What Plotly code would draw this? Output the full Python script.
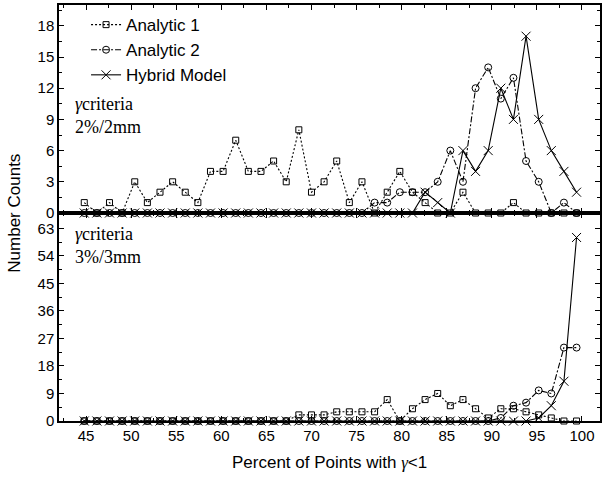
import plotly.graph_objects as go
from plotly.subplots import make_subplots

# bin centres (% of points with gamma < 1)
pct = [44.8, 46.2, 47.6, 49.0, 50.4, 51.8, 53.2, 54.6, 56.0, 57.4,
       58.8, 60.2, 61.6, 63.0, 64.4, 65.8, 67.2, 68.6, 70.0, 71.4,
       72.8, 74.2, 75.6, 77.0, 78.4, 79.8, 81.2, 82.6, 84.0, 85.4,
       86.8, 88.2, 89.6, 91.0, 92.4, 93.8, 95.2, 96.6, 98.0, 99.4]

# gamma criteria 2%/2mm
a1_2mm = [1, 0, 1, 0, 3, 1, 2, 3, 2, 1,
          4, 4, 7, 4, 4, 5, 3, 8, 2, 3,
          5, 1, 3, 0, 2, 4, 2, 1, 0, 0,
          2, 0, 0, 0, 1, 0, 0, 0, 0, 0]
a2_2mm = [0, 0, 0, 0, 0, 0, 0, 0, 0, 0,
          0, 0, 0, 0, 0, 0, 0, 0, 0, 0,
          0, 0, 0, 1, 1, 2, 2, 2, 3, 6,
          3, 12, 14, 11, 13, 5, 3, 0, 1, 0]
hy_2mm = [0, 0, 0, 0, 0, 0, 0, 0, 0, 0,
          0, 0, 0, 0, 0, 0, 0, 0, 0, 0,
          0, 0, 0, 0, 0, 0, 0, 2, 1, 0,
          6, 4, 6, 12, 9, 17, 9, 6, 4, 2]

# gamma criteria 3%/3mm
a1_3mm = [0, 0, 0, 0, 0, 0, 0, 0, 0, 0,
          0, 0, 0, 0, 0, 0, 0, 2, 2, 2,
          3, 3, 3, 3, 7, 0, 4, 7, 9, 5,
          7, 4, 1, 4, 4, 3, 2, 1, 0, 0]
a2_3mm = [0, 0, 0, 0, 0, 0, 0, 0, 0, 0,
          0, 0, 0, 0, 0, 0, 0, 0, 0, 0,
          0, 0, 0, 0, 0, 0, 0, 0, 0, 0,
          0, 0, 0, 1, 5, 6, 10, 9, 24, 24]
hy_3mm = [0, 0, 0, 0, 0, 0, 0, 0, 0, 0,
          0, 0, 0, 0, 0, 0, 0, 0, 0, 0,
          0, 0, 0, 0, 0, 0, 0, 0, 0, 0,
          0, 0, 0, 0, 0, 0, 1, 5, 13, 60]

names = ["Analytic 1", "Analytic 2", "Hybrid Model"]
styles = [("2px,2px", "square-open", 6),
          ("6px,2px,2px,2px", "circle-open", 7),
          ("solid", "x-thin-open", 9)]

fig = make_subplots(rows=2, cols=1, shared_xaxes=True, vertical_spacing=0)

for row, series in [(1, [a1_2mm, a2_2mm, hy_2mm]), (2, [a1_3mm, a2_3mm, hy_3mm])]:
    for name, ys, (dash, sym, size) in zip(names, series, styles):
        fig.add_trace(go.Scatter(
            x=pct, y=ys, name=name, mode="lines+markers",
            line=dict(color="black", width=1.1, dash=dash),
            marker=dict(symbol=sym, size=size, color="black",
                        line=dict(color="black", width=1)),
            cliponaxis=False, showlegend=(row == 1),
        ), row=row, col=1)

axis_common = dict(
    showline=True, linecolor="black", linewidth=1.5, mirror="ticks",
    ticks="inside", ticklen=5, tickwidth=1, tickcolor="black",
    showgrid=False, zeroline=False,
    tickfont=dict(family="Liberation Sans", size=15, color="black"),
)
fig.update_xaxes(range=[42, 102], tick0=45, dtick=5,
                 minor=dict(ticks="inside", ticklen=3, dtick=2.5, tick0=45,
                            tickcolor="black"),
                 **axis_common)
fig.update_xaxes(showticklabels=False, row=1, col=1)
fig.update_yaxes(range=[0, 20], tick0=0, dtick=3,
                 minor=dict(ticks="inside", ticklen=3, dtick=1.5, tickcolor="black"),
                 row=1, col=1, **axis_common)
fig.update_yaxes(range=[0, 68], tick0=0, dtick=9,
                 minor=dict(ticks="inside", ticklen=3, dtick=4.5, tickcolor="black"),
                 row=2, col=1, **axis_common)

serif = dict(family="Liberation Serif", size=18, color="black")
for yref, ypos, crit in [("y domain", 0.58, "2%/2mm"), ("y2 domain", 0.955, "3%/3mm")]:
    fig.add_annotation(text="<i>γ</i>criteria<br>" + crit, xref="x domain", yref=yref,
                       x=0.025, y=ypos, xanchor="left", yanchor="top",
                       showarrow=False, align="left", font=serif)

fig.add_annotation(text="Number Counts", xref="paper", yref="paper", x=-0.105, y=0.5,
                   textangle=-90, showarrow=False,
                   font=dict(family="Liberation Sans", size=17, color="black"))
fig.add_annotation(
    text="Percent of Points with <span style='font-family:Liberation Serif'><i>γ</i></span>&lt;1",
    xref="paper", yref="paper", x=0.5, y=-0.1, yanchor="middle", showarrow=False,
    font=dict(family="Liberation Sans", size=17, color="black"))

fig.update_layout(
    width=605, height=478,
    margin=dict(l=59, r=5, t=3, b=57),
    paper_bgcolor="white", plot_bgcolor="white",
    legend=dict(x=0.05, y=0.995, xanchor="left", yanchor="top",
                bgcolor="rgba(0,0,0,0)", tracegroupgap=0,
                font=dict(family="Liberation Sans", size=17, color="black")),
)

fig.write_html("out.html", config={"displayModeBar": False},
               post_script="document.body.style.margin='0';")
